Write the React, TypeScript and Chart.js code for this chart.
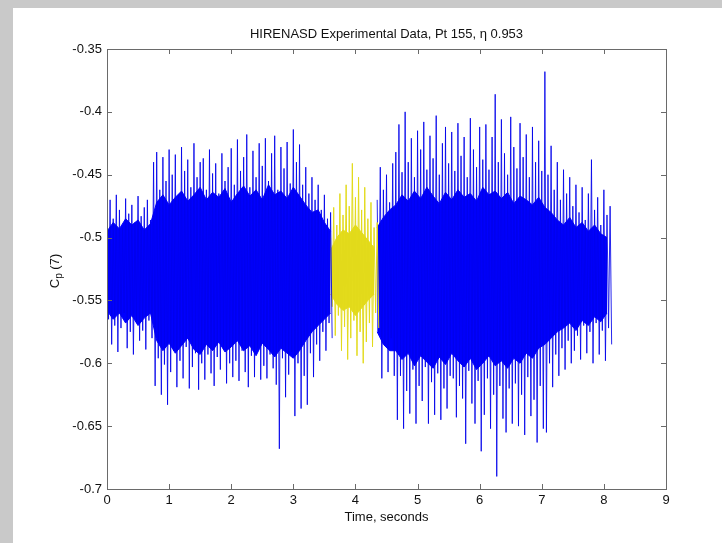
import { useEffect, useRef } from 'react';
import { Chart, registerables } from 'chart.js';
Chart.register(...registerables);

// ---- sampling of the traces (seconds) ----
const STEP = 0.05;
const CORE_STEP = 0.1;
const BLUE_A_START = 0;
const YELLOW_START = 3.6;
const BLUE_B_START = 4.35;

// ---- first blue run, spike tops / bottoms (Cp) every 0.05 s ----
const blueAHigh = [
  -0.49, -0.47, -0.485, -0.466, -0.478, -0.492, -0.469, -0.481, -0.474, -0.488, -0.467, -0.483, -0.476, -0.47, -0.486,
  -0.44, -0.432, -0.462, -0.436, -0.455, -0.43,
  -0.45, -0.434, -0.466, -0.428, -0.447, -0.438, -0.46, -0.425, -0.452, -0.44,
  -0.437, -0.462, -0.43, -0.449, -0.441, -0.465, -0.433, -0.455, -0.444, -0.429,
  -0.458, -0.422, -0.447, -0.436, -0.418, -0.46, -0.431, -0.452, -0.425, -0.443,
  -0.421, -0.455, -0.433, -0.419, -0.462, -0.428, -0.445, -0.424, -0.457, -0.414,
  -0.44, -0.426, -0.458, -0.444, -0.465, -0.452, -0.47, -0.458, -0.478, -0.466, -0.485, -0.48,
];
const blueALow = [
  -0.565, -0.585, -0.57, -0.591, -0.572, -0.56, -0.588, -0.575, -0.593, -0.568, -0.582, -0.574, -0.589, -0.566, -0.58,
  -0.618, -0.596, -0.625, -0.601, -0.633, -0.607,
  -0.59, -0.619, -0.598, -0.612, -0.587, -0.62, -0.603, -0.592, -0.621, -0.6,
  -0.613, -0.593, -0.608, -0.618, -0.595, -0.605, -0.589, -0.616, -0.6, -0.611,
  -0.598, -0.614, -0.59, -0.607, -0.619, -0.594, -0.611, -0.588, -0.613, -0.602,
  -0.612, -0.593, -0.604, -0.617, -0.668, -0.596, -0.627, -0.609, -0.591, -0.642,
  -0.6, -0.636, -0.61, -0.633, -0.592, -0.611, -0.585, -0.598, -0.575, -0.59, -0.568, -0.58,
];

// ---- yellow run ----
const yellowHigh = [
  -0.5, -0.476, -0.49, -0.465, -0.482, -0.458, -0.475, -0.441, -0.468, -0.452, -0.478, -0.46, -0.485, -0.472, -0.492, -0.488,
];
const yellowLow = [
  -0.555, -0.578, -0.562, -0.59, -0.571, -0.597, -0.58, -0.566, -0.594, -0.575, -0.6, -0.583, -0.568, -0.587, -0.56, -0.572,
];

// ---- second blue run ----
const blueBHigh = [
  -0.47, -0.444, -0.462, -0.45, -0.472, -0.441,
  -0.432, -0.41, -0.448, -0.4, -0.44, -0.421, -0.452, -0.415,
  -0.43, -0.408, -0.446, -0.419, -0.437, -0.403, -0.45, -0.425, -0.412, -0.441,
  -0.416, -0.447, -0.409, -0.435, -0.42, -0.452, -0.405, -0.43, -0.444, -0.412,
  -0.438, -0.41, -0.446, -0.42, -0.386, -0.44, -0.406, -0.433, -0.45, -0.404,
  -0.428, -0.445, -0.409, -0.436, -0.418, -0.452, -0.412, -0.44, -0.423, -0.447,
  -0.368, -0.45, -0.427, -0.462, -0.44, -0.47, -0.446, -0.465, -0.452, -0.475,
  -0.458, -0.48, -0.46, -0.486, -0.465, -0.438, -0.478, -0.468, -0.49, -0.462, -0.482, -0.475,
];
const blueBLow = [
  -0.575, -0.612, -0.585, -0.607, -0.58, -0.61,
  -0.645, -0.61, -0.652, -0.622, -0.64, -0.605, -0.648, -0.618,
  -0.63, -0.603, -0.648, -0.615, -0.641, -0.608, -0.645, -0.62, -0.636, -0.61,
  -0.612, -0.643, -0.618, -0.628, -0.664, -0.606, -0.632, -0.648, -0.614, -0.67,
  -0.641, -0.612, -0.652, -0.625, -0.69, -0.618, -0.644, -0.655, -0.62, -0.648,
  -0.616, -0.65, -0.625, -0.657, -0.611, -0.642, -0.629, -0.663, -0.618, -0.652,
  -0.655, -0.6, -0.619, -0.593, -0.61, -0.588, -0.605, -0.582, -0.6, -0.59,
  -0.578, -0.597, -0.57, -0.592, -0.575, -0.6, -0.568, -0.593, -0.574, -0.598, -0.572, -0.585,
];

// ---- dense core of each run (solid band), every 0.1 s ----
const coreATop = [
  -0.495, -0.488, -0.493, -0.485, -0.49, -0.486, -0.494, -0.489,
  -0.472, -0.466, -0.474, -0.468, -0.463, -0.471, -0.466, -0.46, -0.47, -0.464, -0.468, -0.461, -0.472, -0.465, -0.459,
  -0.467, -0.462, -0.47, -0.458, -0.466, -0.463, -0.469, -0.46, -0.467, -0.474, -0.48, -0.478, -0.488, -0.495,
];
const coreABot = [
  -0.558, -0.565, -0.56, -0.568, -0.562, -0.57, -0.564, -0.56,
  -0.582, -0.59, -0.584, -0.592, -0.586, -0.58, -0.589, -0.593, -0.585, -0.59, -0.583, -0.591, -0.587, -0.582, -0.59,
  -0.586, -0.594, -0.584, -0.589, -0.595, -0.588, -0.592, -0.596, -0.59, -0.582, -0.575, -0.57, -0.565, -0.56,
];
const coreYTop = [-0.51, -0.5, -0.494, -0.497, -0.49, -0.496, -0.502, -0.508];
const coreYBot = [-0.545, -0.553, -0.558, -0.555, -0.562, -0.556, -0.55, -0.545];
const coreBTop = [
  -0.492, -0.484, -0.478,
  -0.474, -0.466, -0.471, -0.463, -0.469, -0.46, -0.467, -0.473, -0.464, -0.47, -0.462, -0.468, -0.465,
  -0.471, -0.46, -0.466, -0.463, -0.469, -0.464, -0.473, -0.467, -0.47, -0.474, -0.468, -0.476,
  -0.48, -0.486, -0.49, -0.484, -0.492, -0.488, -0.495, -0.49, -0.497, -0.5,
];
const coreBBot = [
  -0.575, -0.585, -0.59,
  -0.59, -0.597, -0.592, -0.602, -0.594, -0.599, -0.604, -0.595, -0.601, -0.592, -0.598, -0.603, -0.596,
  -0.605, -0.6, -0.594, -0.602, -0.598, -0.604, -0.596, -0.6, -0.592, -0.596, -0.588, -0.585,
  -0.58, -0.575, -0.572, -0.568, -0.574, -0.566, -0.57, -0.563, -0.567, -0.56,
];

const xTicks = [0, 1, 2, 3, 4, 5, 6, 7, 8, 9];
const yTicks = [-0.7, -0.65, -0.6, -0.55, -0.5, -0.45, -0.4, -0.35];

const TITLE = 'HIRENASD Experimental Data, Pt 155, \u03b7 0.953';
const X_TITLE = 'Time, seconds';

const BLUE = '#0000ff';
const BLUE_LINE = 'rgba(0,0,235,0.85)';
const YELLOW = '#e4dc1c';
const YELLOW_LINE = '#e2da1a';
const FONT = '"Liberation Sans", Arial, sans-serif';
const FS = 13;

function zigzag(start: number, hi: number[], lo: number[]) {
  const pts: { x: number; y: number }[] = [];
  hi.forEach((h, i) => {
    const t = start + i * STEP;
    pts.push({ x: t, y: h });
    pts.push({ x: t + STEP / 2, y: lo[i] });
  });
  return pts;
}
function band(start: number, vals: number[]) {
  return vals.map((v, i) => ({ x: start + i * CORE_STEP, y: v }));
}

const framePlugin = {
  id: 'matlabFrame',
  afterDraw(chart: any) {
    const { ctx, chartArea: a, scales } = chart;
    const xs = scales.x;
    const ys = scales.y;
    ctx.save();
    ctx.strokeStyle = '#6a6a6a';
    ctx.lineWidth = 1;
    ctx.strokeRect(Math.round(a.left) + 0.5, Math.round(a.top) + 0.5, Math.round(a.right - a.left), Math.round(a.bottom - a.top));
    const TL = 5;
    ctx.beginPath();
    xTicks.forEach((v) => {
      const px = Math.round(xs.getPixelForValue(v)) + 0.5;
      ctx.moveTo(px, a.bottom);
      ctx.lineTo(px, a.bottom - TL);
      ctx.moveTo(px, a.top);
      ctx.lineTo(px, a.top + TL);
    });
    yTicks.forEach((v) => {
      const py = Math.round(ys.getPixelForValue(v)) + 0.5;
      ctx.moveTo(a.left, py);
      ctx.lineTo(a.left + TL, py);
      ctx.moveTo(a.right, py);
      ctx.lineTo(a.right - TL, py);
    });
    ctx.stroke();

    ctx.fillStyle = '#111';
    ctx.font = `${FS}px ${FONT}`;
    ctx.textAlign = 'center';
    ctx.textBaseline = 'middle';
    ctx.fillText(TITLE, (a.left + a.right) / 2, 34);
    ctx.fillText(X_TITLE, (a.left + a.right) / 2, 517);

    ctx.translate(55, 271);
    ctx.rotate(-Math.PI / 2);
    ctx.textAlign = 'left';
    ctx.textBaseline = 'alphabetic';
    const big = `${FS}px ${FONT}`;
    const small = `10px ${FONT}`;
    ctx.font = big;
    const wC = ctx.measureText('C').width;
    const wR = ctx.measureText(' (7)').width;
    ctx.font = small;
    const wp = ctx.measureText('p').width;
    let x = -(wC + wp + wR) / 2;
    ctx.font = big;
    ctx.fillText('C', x, 4);
    x += wC;
    ctx.font = small;
    ctx.fillText('p', x, 7);
    x += wp;
    ctx.font = big;
    ctx.fillText(' (7)', x, 4);
    ctx.restore();
  },
};

export default function App() {
  const ref = useRef<HTMLCanvasElement | null>(null);
  useEffect(() => {
    if (!ref.current) return;
    const lineDs = (data: any[], color: string) => ({
      data,
      borderColor: color,
      borderWidth: 1,
      pointRadius: 0,
      fill: false,
      order: 1,
    });
    const coreDs = (data: any[], color: string, fill: any) => ({
      data,
      borderColor: color,
      backgroundColor: color,
      borderWidth: 1,
      pointRadius: 0,
      fill,
      order: 2,
    });
    const chart = new Chart(ref.current, {
      type: 'line',
      data: {
        datasets: [
          coreDs(band(BLUE_A_START, coreATop), BLUE, '+1'),
          coreDs(band(BLUE_A_START, coreABot), BLUE, false),
          coreDs(band(YELLOW_START, coreYTop), YELLOW, '+1'),
          coreDs(band(YELLOW_START, coreYBot), YELLOW, false),
          coreDs(band(BLUE_B_START, coreBTop), BLUE, '+1'),
          coreDs(band(BLUE_B_START, coreBBot), BLUE, false),
          lineDs(zigzag(BLUE_A_START, blueAHigh, blueALow), BLUE_LINE),
          lineDs(zigzag(YELLOW_START, yellowHigh, yellowLow), YELLOW_LINE),
          lineDs(zigzag(BLUE_B_START, blueBHigh, blueBLow), BLUE_LINE),
        ] as any,
      },
      options: {
        animation: false,
        responsive: false,
        devicePixelRatio: 1,
        layout: { padding: { left: 0, top: 49, right: 56, bottom: 0 } },
        plugins: { legend: { display: false }, tooltip: { enabled: false }, title: { display: false } },
        elements: { point: { radius: 0 }, line: { tension: 0 } },
        scales: {
          x: {
            type: 'linear',
            min: 0,
            max: 9,
            afterBuildTicks: (s: any) => { s.ticks = xTicks.map((v) => ({ value: v })); },
            ticks: { color: '#111', font: { family: FONT, size: FS }, padding: 4, maxRotation: 0, autoSkip: false },
            grid: { display: false, drawTicks: false },
            border: { display: false },
            afterFit: (s: any) => { s.height = 54; },
          },
          y: {
            type: 'linear',
            min: -0.7,
            max: -0.35,
            afterBuildTicks: (s: any) => { s.ticks = yTicks.map((v) => ({ value: v })); },
            ticks: {
              color: '#111',
              font: { family: FONT, size: FS },
              padding: 5,
              autoSkip: false,
              callback: (v: any) => String(Number(Number(v).toFixed(2))),
            },
            grid: { display: false, drawTicks: false },
            border: { display: false },
            afterFit: (s: any) => { s.width = 107; },
          },
        },
      } as any,
      plugins: [framePlugin],
    });
    return () => chart.destroy();
  }, []);

  return (
    <div style={{ position: 'fixed', left: 0, top: 0, width: 722, height: 543, background: '#c9c9c9', overflow: 'hidden' }}>
      <div style={{ position: 'absolute', left: 13, top: 8, right: 0, bottom: 0, background: '#ffffff' }} />
      <canvas ref={ref} width={722} height={543} style={{ position: 'absolute', left: 0, top: 0, width: 722, height: 543 }} />
    </div>
  );
}
